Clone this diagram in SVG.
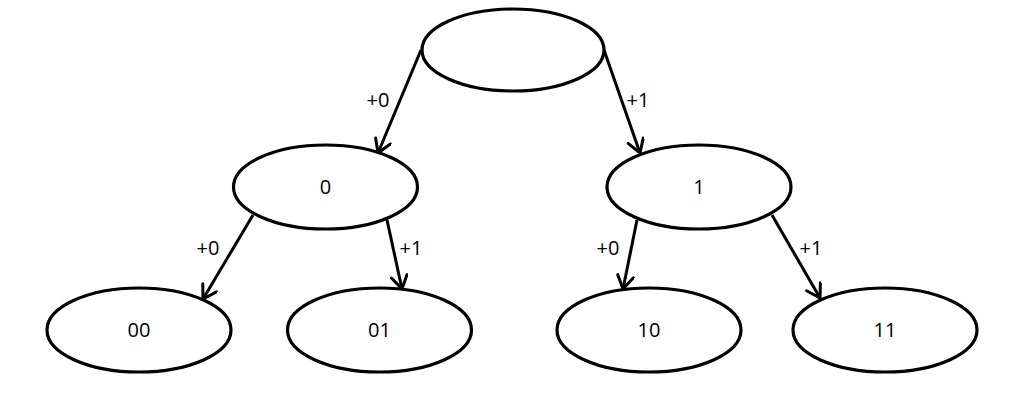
<svg xmlns="http://www.w3.org/2000/svg" width="1024" height="394" viewBox="0 0 1024 394">
<style>
.n{fill:#fff;stroke:#000;stroke-width:3.2}
.e{fill:none;stroke:#000;stroke-width:3;marker-end:url(#a)}
text{font-family:"Open Sans","Liberation Sans",sans-serif;font-size:20px;fill:#000;text-anchor:middle;dominant-baseline:central}
</style>
<defs>
<marker id="a" markerUnits="userSpaceOnUse" markerWidth="30" markerHeight="30" refX="15" refY="9" orient="auto" viewBox="0 0 30 30">
<path d="M2,1 L15,9 L2,17" fill="none" stroke="#000" stroke-width="3" stroke-linecap="round" stroke-linejoin="round"/>
</marker>
</defs>
<rect width="1024" height="394" fill="#fff"/>
<g id="connectors">
<path class="e" d="M421,50 L378,153"/>
<path class="e" d="M604,50 L640,153"/>
<path class="e" d="M253,215 L203,299"/>
<path class="e" d="M387,220 L402,289"/>
<path class="e" d="M637,220 L623,289"/>
<path class="e" d="M772,215 L820,298"/>
<text x="378" y="99">+0</text>
<text x="638" y="99">+1</text>
<text x="208" y="247">+0</text>
<text x="411" y="247">+1</text>
<text x="608" y="247">+0</text>
<text x="811" y="247">+1</text>
</g>
<g id="root"><ellipse class="n" cx="513" cy="50" rx="91" ry="41"/></g>
<g id="n0"><ellipse class="n" cx="325.5" cy="187" rx="92" ry="42"/><text x="325.5" y="186">0</text></g>
<g id="n1"><ellipse class="n" cx="699" cy="187" rx="92" ry="42"/><text x="699" y="186">1</text></g>
<g id="n00"><ellipse class="n" cx="139" cy="330" rx="92" ry="42"/><text x="139" y="329">00</text></g>
<g id="n01"><ellipse class="n" cx="379.5" cy="330" rx="92" ry="42"/><text x="379.5" y="329">01</text></g>
<g id="n10"><ellipse class="n" cx="649" cy="330" rx="92" ry="42"/><text x="649" y="329">10</text></g>
<g id="n11"><ellipse class="n" cx="885" cy="330" rx="92" ry="42"/><text x="885" y="329">11</text></g>
</svg>
